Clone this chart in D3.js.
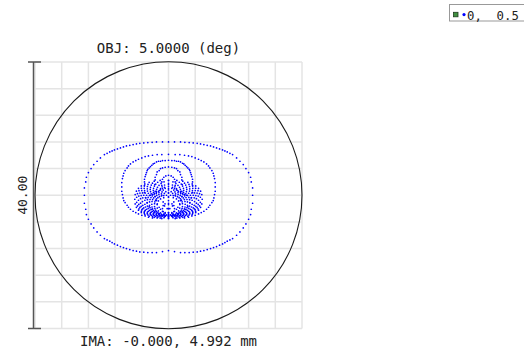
<!DOCTYPE html>
<html>
<head>
<meta charset="utf-8">
<script src="https://cdn.jsdelivr.net/npm/d3@7"></script>
<style>
  html, body { margin: 0; padding: 0; background: #fff; overflow: hidden; }
  svg { display: block; }
  text { font-family: "DejaVu Sans Mono", monospace; fill: #222; }
</style>
</head>
<body>
<svg id="chart" width="524" height="351"></svg>
<script>
// labels
const titleText = 'OBJ: 5.0000 (deg)';
const footerText = 'IMA: -0.000, 4.992 mm';
const scaleLabel = '40.00';
const legendLabel = '0,  0.5';

// box is 40 µm wide, grid every 4 µm, airy disk radius in µm
const boxRange = [-20, 20];
const gridStep = 4;
const airyRadius = 20;

// ray intercepts in µm, right half of each pupil ring (diagram is symmetric in x)
const ringA = [[0,8.0],[0.9,8.0],[1.8,8.0],[2.45,7.95],[3.1,7.9],[3.7,7.85],[4.3,7.8],[4.8,7.7],[5.3,7.6],[5.8,7.5],[6.3,7.4],[6.75,7.25],[7.2,7.1],[7.65,6.95],[8.1,6.8],[8.45,6.65],[8.8,6.5],[9.2,6.3],[9.6,6.1],[10.2,5.6],[10.7,5.1],[11.2,4.6],[11.6,4.0],[12.0,3.4],[12.3,2.7],[12.4,2.0],[12.6,1.1],[12.6,0],
  [12.6,-1.2],[12.4,-2.1],[12.3,-2.9],[12.0,-3.6],[11.6,-4.3],[11.2,-4.9],[10.7,-5.5],[10.2,-6.0],[9.6,-6.5],[9.2,-6.7],[8.8,-6.9],[8.45,-7.1],[8.1,-7.3],[7.65,-7.5],[7.2,-7.7],[6.75,-7.85],[6.3,-8.0],[5.8,-8.15],[5.3,-8.3],[4.8,-8.4],[4.3,-8.5],[3.7,-8.55],[3.1,-8.6],[2.45,-8.6],[1.8,-8.6],[0.9,-8.45],[0,-8.3]];
const ringB = [[0,6.15],[1.0,6.1],[1.7,6.1],[2.4,6.0],[3.0,5.9],[3.5,5.8],[4.0,5.6],[4.5,5.4],[4.9,5.2],[5.3,5.0],[5.7,4.7],[6.0,4.4],[6.2,4.1],[6.5,3.7],[6.7,3.3],[6.8,2.9],[6.9,2.5],[7.0,1.9],[7.0,1.25],
  [7.0,0.6],[6.9,0.1],[6.8,-0.4],[6.7,-0.8],[6.5,-1.1],[6.2,-1.5],[6.0,-1.8],[5.7,-2.1],[5.3,-2.4],[4.9,-2.6],[4.5,-2.8],[4.0,-3.0],[3.5,-3.1],[3.0,-3.3],[2.4,-3.4],[1.7,-3.4],[1.0,-3.5],[0,-3.5]];
const ringC = [[0,5.25],[0.5,5.2],[0.9,5.2],[1.2,5.1],[1.5,5.1],[1.8,5.0],[2.1,4.8],[2.3,4.7],[2.5,4.5],[2.7,4.3],[2.9,4.1],[3.1,3.9],[3.2,3.7],[3.3,3.4],[3.4,3.1],[3.5,2.8],[3.6,2.4],[3.6,2.0],[3.6,1.5],
  [3.6,0.4],[3.4,-0.4],[3.2,-1.1],[2.9,-1.7],[2.5,-2.1],[2.1,-2.5],[1.5,-2.8],[0.9,-3.0],[0,-3.0]];
const ringD = [[0,4.25],[0.5,4.2],[0.9,4.1],[1.2,4.0],[1.4,3.7],[1.7,3.5],[1.8,3.1],[2.0,2.7],[2.0,2.3],[2.05,1.6],
  [2.0,0.6],[2.0,-0.2],[1.8,-0.8],[1.7,-1.4],[1.4,-1.8],[1.2,-2.1],[0.9,-2.4],[0.5,-2.6],[0,-2.6]];
const ringE = [[0,3.0],[0.4,2.9],[0.7,2.7],[0.9,2.4],[1.0,2.0],[1.0,1.5],
  [1.0,0.0],[0.8,-1.0],[0.6,-1.6],[0.2,-2.0],[0,-2.0]];
const blob1 = [[0,2.25],[1.25,2.22],[2.14,2.11],[2.9,1.94],[3.55,1.7],[4.08,1.4],[4.5,1.04],[4.81,0.61],[4.99,0.1],[5.05,-0.6],
  [4.99,-1.3],[4.81,-1.81],[4.5,-2.24],[4.08,-2.6],[3.55,-2.9],[2.9,-3.14],[2.14,-3.31],[1.25,-3.42],[0,-3.45]];
const blob1b = [[0.67,2.01],[1.62,1.95],[2.4,1.81],[3.07,1.62],[3.62,1.37],[4.07,1.05],[4.42,0.68],[4.65,0.24],[4.77,-0.3],
  [4.77,-1.06],[4.65,-1.6],[4.42,-2.04],[4.07,-2.41],[3.62,-2.73],[3.07,-2.98],[2.4,-3.17],[1.62,-3.31],[0.67,-3.37]];
const blob2 = [[0,1.8],[1.11,1.77],[1.91,1.68],[2.58,1.52],[3.16,1.31],[3.64,1.04],[4.01,0.71],[4.28,0.33],[4.45,-0.12],[4.5,-0.75],
  [4.45,-1.38],[4.28,-1.83],[4.01,-2.21],[3.64,-2.54],[3.16,-2.81],[2.58,-3.02],[1.91,-3.18],[1.11,-3.27],[0,-3.3]];
const blob2b = [[0.59,1.54],[1.42,1.49],[2.11,1.37],[2.7,1.19],[3.18,0.97],[3.58,0.69],[3.88,0.35],[4.09,-0.04],[4.19,-0.51],
  [4.19,-1.19],[4.09,-1.66],[3.88,-2.05],[3.58,-2.39],[3.18,-2.67],[2.7,-2.89],[2.11,-3.07],[1.42,-3.19],[0.59,-3.24]];
const blob3 = [[0,1.3],[0.96,1.27],[1.65,1.19],[2.24,1.05],[2.74,0.87],[3.15,0.63],[3.47,0.34],[3.71,0.0],[3.85,-0.39],[3.9,-0.95],
  [3.85,-1.51],[3.71,-1.9],[3.47,-2.24],[3.15,-2.53],[2.74,-2.77],[2.24,-2.95],[1.65,-3.09],[0.96,-3.17],[0,-3.2]];
const blob3b = [[0.5,1.04],[1.2,0.99],[1.78,0.89],[2.28,0.74],[2.69,0.54],[3.02,0.3],[3.28,0.0],[3.45,-0.34],[3.54,-0.75],
  [3.54,-1.35],[3.45,-1.76],[3.28,-2.1],[3.02,-2.4],[2.69,-2.64],[2.28,-2.84],[1.78,-2.99],[1.2,-3.09],[0.5,-3.14]];
const blob4 = [[0,0.8],[0.79,0.78],[1.36,0.71],[1.84,0.59],[2.25,0.43],[2.59,0.22],[2.85,-0.03],[3.05,-0.32],[3.16,-0.67],[3.2,-1.15],
  [3.16,-1.63],[3.05,-1.98],[2.85,-2.27],[2.59,-2.52],[2.25,-2.73],[1.84,-2.89],[1.36,-3.01],[0.79,-3.08],[0,-3.1]];
const blob4b = [[0.4,0.54],[0.97,0.5],[1.43,0.41],[1.83,0.28],[2.16,0.11],[2.43,-0.09],[2.63,-0.35],[2.77,-0.64],[2.84,-1.0],
  [2.84,-1.5],[2.77,-1.86],[2.63,-2.15],[2.43,-2.41],[2.16,-2.61],[1.83,-2.78],[1.43,-2.91],[0.97,-3.0],[0.4,-3.04]];
const blob5 = [[0,0.3],[0.62,0.28],[1.06,0.22],[1.44,0.12],[1.76,-0.02],[2.02,-0.19],[2.23,-0.4],[2.38,-0.65],[2.47,-0.94],[2.5,-1.35],
  [2.47,-1.76],[2.38,-2.05],[2.23,-2.3],[2.02,-2.51],[1.76,-2.68],[1.44,-2.82],[1.06,-2.92],[0.62,-2.98],[0,-3.0]];
const blob5b = [[0.3,0.0],[0.71,-0.04],[1.05,-0.11],[1.35,-0.22],[1.59,-0.36],[1.79,-0.53],[1.94,-0.74],[2.04,-0.98],[2.09,-1.27],
  [2.09,-1.69],[2.04,-1.98],[1.94,-2.22],[1.79,-2.43],[1.59,-2.6],[1.35,-2.74],[1.05,-2.85],[0.71,-2.92],[0.3,-2.96]];
const blob6 = [[0,-0.3],[0.72,-0.36],[1.19,-0.55],[1.51,-0.85],[1.68,-1.28],[1.68,-1.92],[1.51,-2.35],[1.19,-2.65],[0.72,-2.84],[0,-2.9]];
const blob7 = [[0,-1.2],[0.52,-1.29],[0.8,-1.54],[0.9,-2.0],[0.8,-2.46],[0.52,-2.71],[0,-2.8]];
const spokes = [[0.6,1.2],[0.9,1.0],[1.2,0.8],[1.5,0.6],[1.8,0.45],[2.1,0.3],[2.4,0.15],[2.7,0.0]];
const centreLine = [[0,2.2],[0,1.6],[0,1.0],[0,0.4],[0,-0.2],[0,-0.8],[0,-1.4],[0,-2.0],[0,-2.6],[0,-3.2]];

const rings = [ringA, ringB, ringC, ringD, ringE, blob1, blob1b, blob2, blob2b, blob3, blob3b,
  blob4, blob4b, blob5, blob5b, blob6, blob7, spokes, centreLine];
// mirror right half onto left half
const spots = rings.flatMap(r => r.flatMap(([px, py]) => px === 0 ? [[px, py]] : [[px, py], [-px, py]]));

const svg = d3.select('#chart');

const x = d3.scaleLinear().domain(boxRange).range([35, 302]);
const y = d3.scaleLinear().domain(boxRange).range([328.5, 62]);
const gridVals = d3.range(boxRange[0], boxRange[1] + 0.01, gridStep);

// grid
const grid = svg.append('g');
grid.selectAll('line.gx')
  .data(gridVals)
  .enter().append('line')
  .attr('x1', d => x(d)).attr('x2', d => x(d))
  .attr('y1', y(boxRange[0])).attr('y2', y(boxRange[1]))
  .attr('stroke', '#e4e4e4').attr('stroke-width', 1.5);
grid.selectAll('line.gy')
  .data(gridVals)
  .enter().append('line')
  .attr('y1', d => y(d)).attr('y2', d => y(d))
  .attr('x1', x(boxRange[0])).attr('x2', x(boxRange[1]))
  .attr('stroke', '#e4e4e4').attr('stroke-width', 1.5);

// airy disk
svg.append('circle')
  .attr('cx', x(0)).attr('cy', y(0))
  .attr('r', x(airyRadius) - x(0))
  .attr('fill', 'none')
  .attr('stroke', '#1a1a1a')
  .attr('stroke-width', 1.1);

// spots
svg.append('g').selectAll('circle')
  .data(spots)
  .enter().append('circle')
  .attr('cx', d => x(d[0]))
  .attr('cy', d => y(d[1]))
  .attr('r', 0.85)
  .attr('fill', '#0000ff');

// scale bar
const barX = x(boxRange[0]) - 1.5;
const bar = svg.append('g').attr('stroke', '#555').attr('stroke-width', 1.5);
bar.append('line').attr('x1', barX).attr('x2', barX).attr('y1', y(boxRange[0])).attr('y2', y(boxRange[1]));
bar.append('line').attr('x1', barX - 5.5).attr('x2', barX + 7.5).attr('y1', y(boxRange[1])).attr('y2', y(boxRange[1]));
bar.append('line').attr('x1', barX - 5.5).attr('x2', barX + 7.5).attr('y1', y(boxRange[0])).attr('y2', y(boxRange[0]));

svg.append('text')
  .attr('transform', `translate(27,${y(0)}) rotate(-90)`)
  .attr('text-anchor', 'middle')
  .style('font-size', '13px')
  .text(scaleLabel);

// titles
svg.append('text')
  .attr('x', x(0)).attr('y', 53)
  .attr('text-anchor', 'middle')
  .style('font-size', '14px')
  .text(titleText);

svg.append('text')
  .attr('x', x(0)).attr('y', 346)
  .attr('text-anchor', 'middle')
  .style('font-size', '14px')
  .text(footerText);

// legend (runs past the right edge, as in the original)
const legend = svg.append('g');
legend.append('rect')
  .attr('x', 449.5).attr('y', 4.5)
  .attr('width', 100).attr('height', 16.5)
  .attr('fill', '#fff')
  .attr('stroke', '#999');
legend.append('rect')
  .attr('x', 453.5).attr('y', 12.3)
  .attr('width', 4.5).attr('height', 4.5)
  .attr('fill', '#3f8f3f')
  .attr('stroke', '#1d3d1d')
  .attr('stroke-width', 0.8);
legend.append('circle')
  .attr('cx', 464).attr('cy', 14.6)
  .attr('r', 1.6)
  .attr('fill', '#0000ff');
legend.append('text')
  .attr('x', 467).attr('y', 19.6)
  .style('font-size', '12.3px')
  .style('white-space', 'pre')
  .attr('xml:space', 'preserve')
  .text(legendLabel);
</script>
</body>
</html>
